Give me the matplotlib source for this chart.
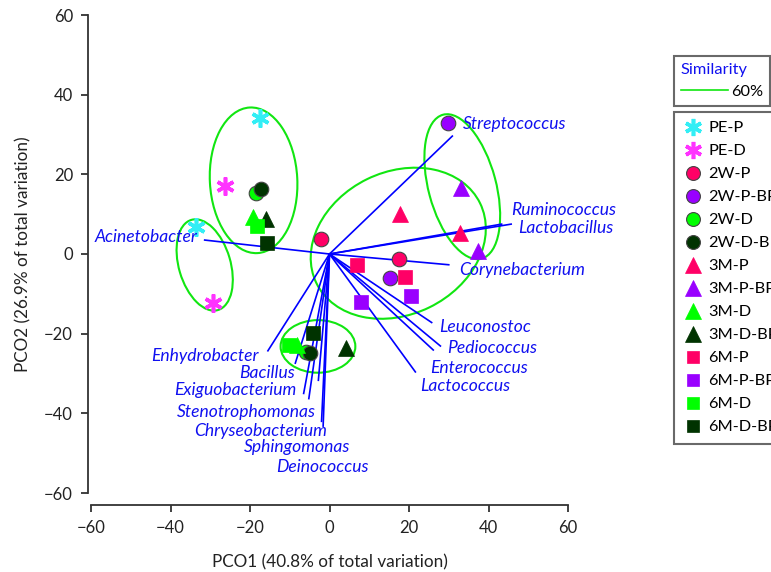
import matplotlib
matplotlib.use('Agg')
import matplotlib.pyplot as plt
from matplotlib.patches import Ellipse
from matplotlib.lines import Line2D

plt.rcParams['font.family'] = ['Lato', 'DejaVu Sans']

# 样本组 (每组两个点)
groups = ['PE-P', 'PE-D', '2W-P', '2W-P-BP', '2W-D', '2W-D-BP',
          '3M-P', '3M-P-BP', '3M-D', '3M-D-BP',
          '6M-P', '6M-P-BP', '6M-D', '6M-D-BP']
pco1 = [[-17.5, -33.7], [-26.4, -29.4], [-2.1, 17.4], [29.7, 15.1],
        [-18.4, -6.0], [-17.3, -4.9], [17.7, 32.8], [33.0, 37.4],
        [-19.2, -8.1], [-16.1, 4.2], [6.9, 19.1], [20.5, 8.0],
        [-18.2, -10.2], [-15.8, -4.2]]
pco2 = [[34.2, 6.9], [17.1, -12.2], [3.7, -1.3], [33.0, -6.1],
        [15.4, -24.5], [16.3, -24.9], [10.0, 5.2], [16.6, 0.8],
        [9.4, -22.8], [8.7, -23.5], [-2.8, -5.8], [-10.5, -12.1],
        [7.0, -22.8], [2.8, -19.9]]

# 向量 (biplot)
taxa = ['Streptococcus', 'Ruminococcus', 'Lactobacillus', 'Corynebacterium',
        'Acinetobacter', 'Leuconostoc', 'Pediococcus', 'Enterococcus',
        'Lactococcus', 'Enhydrobacter', 'Bacillus', 'Exiguobacterium',
        'Stenotrophomonas', 'Chryseobacterium', 'Sphingomonas', 'Deinococcus']
vec_x = [30.9, 45.7, 43.3, 30.0, -31.4, 25.7, 27.9, 26.1, 21.6,
         -15.5, -8.6, -6.5, -5.2, -2.8, -2.0, -1.6]
vec_y = [29.6, 7.5, 7.5, -2.7, 3.5, -17.2, -23.1, -24.1, -29.6,
         -24.3, -27.4, -35.0, -36.3, -31.7, -42.0, -43.2]

# 标签位置
lab_x = [33.5, 72.0, 71.5, 32.5, -33.3, 27.7, 29.6, 25.4, 22.7,
         -17.8, -8.8, -8.3, -3.3, -0.6, 5.1, 9.9]
lab_y = [32.6, 11.0, 6.6, -4.0, 4.3, -18.4, -23.7, -28.5, -33.1,
         -25.5, -30.0, -34.1, -39.7, -44.4, -48.5, -53.4]
lab_ha = ['left', 'right', 'right', 'left', 'right', 'left', 'left', 'left', 'left',
          'right', 'right', 'right', 'right', 'right', 'right', 'right']

# 60% 相似度椭圆: 中心x, 中心y, 宽, 高, 角度
ell_cx = [-19.1, -31.4, 17.3, 33.4, -2.9]
ell_cy = [18.5, -2.75, 2.7, 16.9, -23.2]
ell_w = [22.0, 13.0, 45.8, 17.0, 18.8]
ell_h = [36.6, 23.6, 35.8, 37.4, 13.2]
ell_a = [3, 16.5, 26, 15, 0]

pink = '#FF0066'
purple = '#9900FF'
lgreen = '#00FF00'
dgreen = '#003300'
colors = ['#33EEF5', '#FF33FF', pink, purple, lgreen, dgreen,
          pink, purple, lgreen, dgreen, pink, purple, lgreen, dgreen]
markers = [(6, 2, 0), (6, 2, 0), 'o', 'o', 'o', 'o',
           '^', '^', '^', '^', 's', 's', 's', 's']
sizes = [13, 13, 10.5, 10.5, 10.5, 10.5, 11.5, 11.5, 11.5, 11.5, 9.5, 9.5, 9.5, 9.5]

fig = plt.figure(figsize=(7.71, 5.72), dpi=100)
ax = fig.add_axes([91 / 771, 79 / 572, 477 / 771, 478 / 572])
ax.set_xlim(-60, 60)
ax.set_ylim(-60, 60)

# 椭圆
for cx, cy, w, h, a in zip(ell_cx, ell_cy, ell_w, ell_h, ell_a):
    ax.add_patch(Ellipse((cx, cy), w, h, angle=a, fill=False,
                         edgecolor='#11E611', linewidth=1.5, zorder=2))

# 向量线
for vx, vy in zip(vec_x, vec_y):
    ax.plot([0, vx], [0, vy], color='#0000FF', linewidth=1.2, zorder=3)
for t, tx, ty, ha in zip(taxa, lab_x, lab_y, lab_ha):
    ax.text(tx, ty, t, color='#1010F0', fontsize=12.6, style='italic',
            ha=ha, va='center', clip_on=False, zorder=5)

# 样本点
handles = []
for g, xs, ys, c, m, s in zip(groups, pco1, pco2, colors, markers, sizes):
    if m == (6, 2, 0):
        kw = dict(markeredgecolor=c, markeredgewidth=2.6)
    elif m == 'o':
        kw = dict(markerfacecolor=c, markeredgecolor='#444444', markeredgewidth=0.8)
    else:
        kw = dict(markerfacecolor=c, markeredgecolor=c, markeredgewidth=0.5)
    ax.plot(xs, ys, linestyle='none', marker=m, markersize=s, color=c, zorder=4, **kw)
    handles.append(Line2D([], [], linestyle='none', marker=m, markersize=s * 0.95,
                          color=c, **kw))

# 轴样式
for side in ['top', 'right']:
    ax.spines[side].set_visible(False)
ax.spines['left'].set_position(('outward', 2))
ax.spines['bottom'].set_position(('outward', 8.5))
for side in ['left', 'bottom']:
    ax.spines[side].set_color('#333333')
    ax.spines[side].set_linewidth(1.3)
ax.set_xticks(range(-60, 61, 20))
ax.set_yticks(range(-60, 61, 20))
ax.tick_params(direction='out', length=5, width=1.3, color='#333333',
               labelsize=12, labelcolor='#222222', pad=6)
ax.set_xlabel('PCO1 (40.8% of total variation)', fontsize=12.3, color='#222222', labelpad=13)
ax.set_ylabel('PCO2 (26.9% of total variation)', fontsize=12.3, color='#222222', labelpad=9)

# 图例: 相似度
sim = fig.legend([Line2D([], [], color='#11E611', linewidth=1.2)], ['60%'],
                 title='Similarity', loc='upper left',
                 bbox_to_anchor=(674 / 771, 1 - 56 / 572), fancybox=False,
                 edgecolor='#444444', fontsize=11.8, title_fontsize=11.8,
                 handlelength=2.9, handletextpad=0.2, borderpad=0.4,
                 borderaxespad=0)
sim.get_title().set_color('#1010F0')
sim._legend_box.align = 'left'
sim.get_frame().set_linewidth(1.5)

leg = fig.legend(handles, groups, loc='upper left',
                 bbox_to_anchor=(674 / 771, 1 - 111.5 / 572), fancybox=False,
                 edgecolor='#444444', fontsize=11.8, labelspacing=0.52,
                 handlelength=1.2, handletextpad=0.3, borderpad=0.58,
                 borderaxespad=0)
leg.get_frame().set_linewidth(1.5)

fig.savefig('out.png', dpi=100)
